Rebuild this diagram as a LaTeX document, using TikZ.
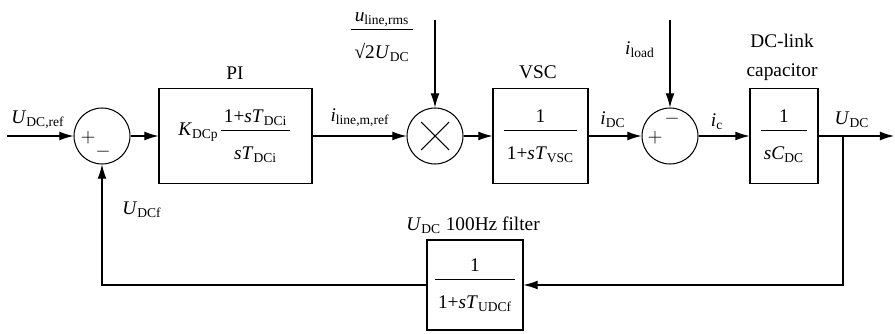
\documentclass[tikz,border=0pt]{standalone}
\usepackage{amsmath}
\usepackage{fontspec}
\setmainfont{Liberation Serif}
\usetikzlibrary{arrows.meta}
\newcommand{\sym}[2]{\textit{#1}\textsubscript{#2}}
\newcommand{\bfrac}[2]{$\dfrac{\rule[-3pt]{0pt}{0pt}\,\text{#1}\,}{\rule{0pt}{15pt}\,\text{#2}\,}$}

\begin{document}
\begin{tikzpicture}[x=0.02cm,y=-0.02cm,line width=0.6pt,>={Latex[length=8pt,width=5pt]},
  every node/.style={font=\fontsize{11}{13}\selectfont},
  blk/.style={draw,minimum height=1.9cm,inner sep=0pt},
  sumc/.style={draw,circle,minimum size=1.12cm,inner sep=0pt}]
\useasboundingbox (0,0) rectangle (895,334);
% blocks
\node[sumc] (s1) at (102,136) {};
\node[blk,minimum width=3.06cm] (pi) at (235.5,136) {\sym{K}{DCp}\bfrac{1+\textit{s}\sym{T}{DCi}}{\textit{s}\sym{T}{DCi}}};
\node[sumc] (mul) at (435,136) {};
\node[blk,minimum width=1.9cm] (vsc) at (540.5,136) {\bfrac{1}{1+\textit{s}\sym{T}{VSC}}};
\node[sumc] (s2) at (670,136) {};
\node[blk,minimum width=1.36cm] (cap) at (784,136) {\bfrac{1}{\textit{s}\sym{C}{DC}}};
\node[blk,minimum width=1.92cm,minimum height=1.8cm] (filt) at (475,285) {\bfrac{1}{1+\textit{s}\sym{T}{UDCf}}};
\draw ([shift={(-14,-14)}]mul.center) -- ([shift={(14,14)}]mul.center);
\draw ([shift={(-14,14)}]mul.center) -- ([shift={(14,-14)}]mul.center);
% signs
\node (s1p) at (88,138) {$+$}; \node (s1m) at (103,152) {$-$};
\node (s2p) at (655,138) {$+$}; \node (s2m) at (672,119) {$-$};
% free ends
\coordinate (in) at (7,136); \coordinate (out) at (894,136);
\coordinate (br) at (843,136);
\coordinate (mtop) at (435,20); \coordinate (ltop) at (670,20);
% connectors
\draw[->] (in) -- (s1);
\draw[->] (s1) -- (pi);
\draw[->] (pi) -- (mul);
\draw[->] (mul) -- (vsc);
\draw[->] (vsc) -- (s2);
\draw[->] (s2) -- (cap);
\draw[->] (cap) -- (out);
\draw[->] (mtop) -- (mul);
\draw[->] (ltop) -- (s2);
\draw[->] (br) |- (filt);
\draw[->] (filt) -| (s1);
% labels
\node (uref) at (38,120) {\sym{U}{DC,ref}};
\node (pil) at (235,73) {PI};
\node (ilref) at (360,118) {\sym{i}{line,m,ref}};
\node (uscale) at (382,37) {\bfrac{\sym{u}{line,rms}}{√2\sym{U}{DC}}};
\node (vscl) at (538,72) {VSC};
\node (idc) at (613,120) {\sym{i}{DC}};
\node (iload) at (640,50) {\sym{i}{load}};
\node (ic) at (717,122) {\sym{i}{c}};
\node[align=center,font=\fontsize{11}{16.5}\selectfont] (capl) at (782,57) {DC-link\\capacitor};
\node (udc) at (852,120) {\sym{U}{DC}};
\node (udcf) at (142,210) {\sym{U}{DCf}};
\node (filtl) at (473,225) {\sym{U}{DC} 100Hz filter};
\end{tikzpicture}
\end{document}
